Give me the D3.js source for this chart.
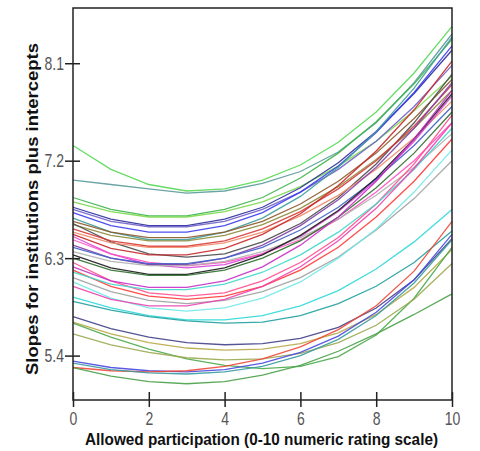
<head>
  <title>Slopes for institutions plus intercepts</title>
</head>

<body style="margin:0;background:#ffffff">

  <svg width="480" height="451" id="chart"></svg>

  <script src="https://cdn.jsdelivr.net/npm/d3@7"></script>

  <script>

// participation ratings (x) and one fitted curve per institution
let participation = [0, 1, 2, 3, 4, 5, 6, 7, 8, 9, 10];

let curves = [
  [7.34, 7.12, 6.98, 6.92, 6.94, 7.02, 7.16, 7.37, 7.65, 8.01, 8.44],
  [7.02, 6.98, 6.94, 6.90, 6.92, 6.99, 7.10, 7.28, 7.55, 7.92, 8.37],
  [6.86, 6.75, 6.69, 6.69, 6.75, 6.86, 7.04, 7.27, 7.56, 7.91, 8.32],
  [6.82, 6.73, 6.68, 6.68, 6.73, 6.82, 6.96, 7.15, 7.38, 7.66, 7.98],
  [6.77, 6.66, 6.60, 6.60, 6.66, 6.77, 6.95, 7.18, 7.47, 7.82, 8.22],
  [6.75, 6.64, 6.59, 6.59, 6.64, 6.75, 6.91, 7.12, 7.38, 7.70, 8.08],
  [6.72, 6.60, 6.54, 6.54, 6.60, 6.72, 6.91, 7.15, 7.46, 7.83, 8.26],
  [6.67, 6.54, 6.47, 6.47, 6.54, 6.67, 6.87, 7.14, 7.47, 7.87, 8.34],
  [6.64, 6.54, 6.49, 6.49, 6.54, 6.64, 6.80, 7.01, 7.27, 7.59, 7.95],
  [6.61, 6.51, 6.46, 6.46, 6.51, 6.61, 6.76, 6.96, 7.21, 7.50, 7.85],
  [6.62, 6.45, 6.34, 6.31, 6.34, 6.45, 6.62, 6.86, 7.17, 7.55, 8.00],
  [6.57, 6.46, 6.41, 6.41, 6.46, 6.57, 6.73, 6.94, 7.20, 7.52, 7.90],
  [6.54, 6.44, 6.40, 6.40, 6.44, 6.54, 6.69, 6.88, 7.12, 7.41, 7.75],
  [6.52, 6.39, 6.33, 6.33, 6.39, 6.52, 6.71, 6.97, 7.29, 7.67, 8.12],
  [6.50, 6.34, 6.24, 6.21, 6.24, 6.34, 6.50, 6.73, 7.02, 7.38, 7.80],
  [6.47, 6.34, 6.26, 6.23, 6.26, 6.34, 6.47, 6.66, 6.91, 7.20, 7.55],
  [6.42, 6.30, 6.24, 6.24, 6.30, 6.42, 6.60, 6.84, 7.14, 7.50, 7.92],
  [6.40, 6.30, 6.25, 6.25, 6.30, 6.40, 6.56, 6.77, 7.03, 7.34, 7.70],
  [6.36, 6.27, 6.23, 6.23, 6.27, 6.36, 6.49, 6.66, 6.88, 7.14, 7.45],
  [6.33, 6.21, 6.15, 6.15, 6.21, 6.33, 6.51, 6.74, 7.04, 7.40, 7.82],
  [6.30, 6.19, 6.14, 6.14, 6.19, 6.30, 6.46, 6.68, 6.95, 7.27, 7.65],
  [6.26, 6.09, 5.98, 5.95, 5.98, 6.09, 6.26, 6.49, 6.80, 7.17, 7.62],
  [6.22, 6.09, 6.03, 6.03, 6.09, 6.22, 6.42, 6.68, 7.01, 7.40, 7.85],
  [6.19, 6.04, 5.95, 5.92, 5.95, 6.04, 6.19, 6.40, 6.68, 7.01, 7.40],
  [6.17, 6.06, 6.01, 6.01, 6.06, 6.17, 6.33, 6.54, 6.80, 7.12, 7.50],
  [6.12, 5.99, 5.91, 5.88, 5.91, 5.99, 6.12, 6.31, 6.56, 6.85, 7.20],
  [6.08, 5.93, 5.84, 5.81, 5.84, 5.93, 6.08, 6.30, 6.57, 6.91, 7.30],
  [6.04, 5.92, 5.86, 5.86, 5.92, 6.04, 6.22, 6.46, 6.76, 7.13, 7.55],
  [5.94, 5.84, 5.77, 5.73, 5.73, 5.77, 5.86, 6.00, 6.20, 6.45, 6.75],
  [5.90, 5.82, 5.76, 5.72, 5.70, 5.71, 5.77, 5.88, 6.04, 6.26, 6.55],
  [5.76, 5.65, 5.57, 5.52, 5.50, 5.51, 5.56, 5.66, 5.84, 6.10, 6.48],
  [5.71, 5.60, 5.52, 5.47, 5.45, 5.46, 5.51, 5.61, 5.78, 6.03, 6.38],
  [5.70, 5.57, 5.46, 5.37, 5.31, 5.28, 5.30, 5.39, 5.59, 5.93, 6.40],
  [5.60, 5.50, 5.43, 5.38, 5.36, 5.37, 5.42, 5.52, 5.68, 5.92, 6.25],
  [5.35, 5.29, 5.26, 5.25, 5.27, 5.33, 5.43, 5.58, 5.80, 6.10, 6.52],
  [5.29, 5.26, 5.25, 5.26, 5.30, 5.37, 5.48, 5.64, 5.86, 6.18, 6.64],
  [5.33, 5.27, 5.24, 5.23, 5.25, 5.30, 5.40, 5.55, 5.77, 6.07, 6.47],
  [5.29, 5.21, 5.16, 5.14, 5.16, 5.22, 5.31, 5.44, 5.60, 5.78, 5.97]
];

let lineColors = [
  '#55d855', '#5a9a9a', '#3cb44b', '#7ad84a', '#2e2e9e', '#7060c8', '#3c3cf0', '#409c9c',
  '#8b5a2b', '#8c8c3c', '#4a4a4a', '#d83a3a', '#f08868', '#c82828', '#d840d8', '#ff50c0',
  '#8040a8', '#4060c8', '#b0b0b0', '#1a1a1a', '#2e6e2e', '#ff4e8e', '#c830c8', '#ff3a3a',
  '#40d8cc', '#a0a0a0', '#70e8e8', '#f040b0', '#30d8d8', '#20a0a0', '#40408a', '#b8a848',
  '#4caa4c', '#9aa850', '#4848e0', '#f04838', '#3a9aa0', '#48a048'
];

let xTicks = [0, 2, 4, 6, 8, 10];
let yTicks = [5.4, 6.3, 7.2, 8.1];

let xLabel = "Allowed participation (0-10 numeric rating scale)";
let yLabel = "Slopes for institutions plus intercepts";

let svg = d3.select("#chart");

let plotLeft = 73, plotRight = 452, plotTop = 8, plotBottom = 400;

let x = d3.scaleLinear().domain([0, 10]).range([plotLeft, plotRight]);
let y = d3.scaleLinear().domain([4.99, 8.61]).range([plotBottom, plotTop]);

// curves
let line = d3.line()
  .x(function(d, i) { return x(participation[i]); })
  .y(function(d) { return y(d); });

svg.append("g")
  .selectAll("path")
  .data(curves)
  .enter()
  .append("path")
  .attr("d", line)
  .attr("fill", "none")
  .attr("stroke", function(d, i) { return lineColors[i]; })
  .attr("stroke-width", 1.3)
  .attr("stroke-opacity", 0.9);

// frame
svg.append("rect")
  .attr("x", plotLeft)
  .attr("y", plotTop)
  .attr("width", plotRight - plotLeft)
  .attr("height", plotBottom - plotTop)
  .attr("fill", "none")
  .attr("stroke", "#222")
  .attr("stroke-width", 1.5);

// y axis, ticks cross the frame
let yAxis = svg.append("g")
  .attr("transform", "translate(" + plotLeft + ",0)")
  .call(d3.axisLeft(y).tickValues(yTicks).tickFormat(d3.format(".1f")).tickSize(8));
yAxis.select(".domain").remove();
yAxis.selectAll(".tick line").attr("x1", 7).attr("stroke", "#222").attr("stroke-width", 1.5);
yAxis.selectAll(".tick text")
  .attr("x", -9)
  .attr("y", 5)
  .attr("dy", null)
  .attr("font-family", "Liberation Sans, Arial, sans-serif")
  .attr("font-size", 14)
  .attr("fill", "#555")
  .attr("transform", "scale(1,1.25)");

// x axis
let xAxis = svg.append("g")
  .attr("transform", "translate(0," + plotBottom + ")")
  .call(d3.axisBottom(x).tickValues(xTicks).tickSize(7));
xAxis.select(".domain").remove();
xAxis.selectAll(".tick line").attr("y1", -8).attr("stroke", "#222").attr("stroke-width", 1.5);
xAxis.selectAll(".tick text")
  .attr("y", 0)
  .attr("dy", null)
  .attr("font-family", "Liberation Sans, Arial, sans-serif")
  .attr("font-size", 14)
  .attr("fill", "#555")
  .attr("transform", "translate(0,25) scale(1,1.25)");

// axis titles
svg.append("g")
  .attr("transform", "translate(261.5,445) scale(1,1.15)")
  .append("text")
  .attr("text-anchor", "middle")
  .attr("font-family", "Liberation Sans, Arial, sans-serif")
  .attr("font-weight", "bold")
  .attr("font-size", 15)
  .attr("fill", "#111")
  .attr("textLength", 353)
  .attr("lengthAdjust", "spacingAndGlyphs")
  .text(xLabel);

svg.append("text")
  .attr("transform", "translate(38,209) rotate(-90)")
  .attr("text-anchor", "middle")
  .attr("font-family", "Liberation Sans, Arial, sans-serif")
  .attr("font-weight", "bold")
  .attr("font-size", 16)
  .attr("fill", "#111")
  .attr("textLength", 332)
  .attr("lengthAdjust", "spacingAndGlyphs")
  .text(yLabel);

  </script>
</body>
</html>
